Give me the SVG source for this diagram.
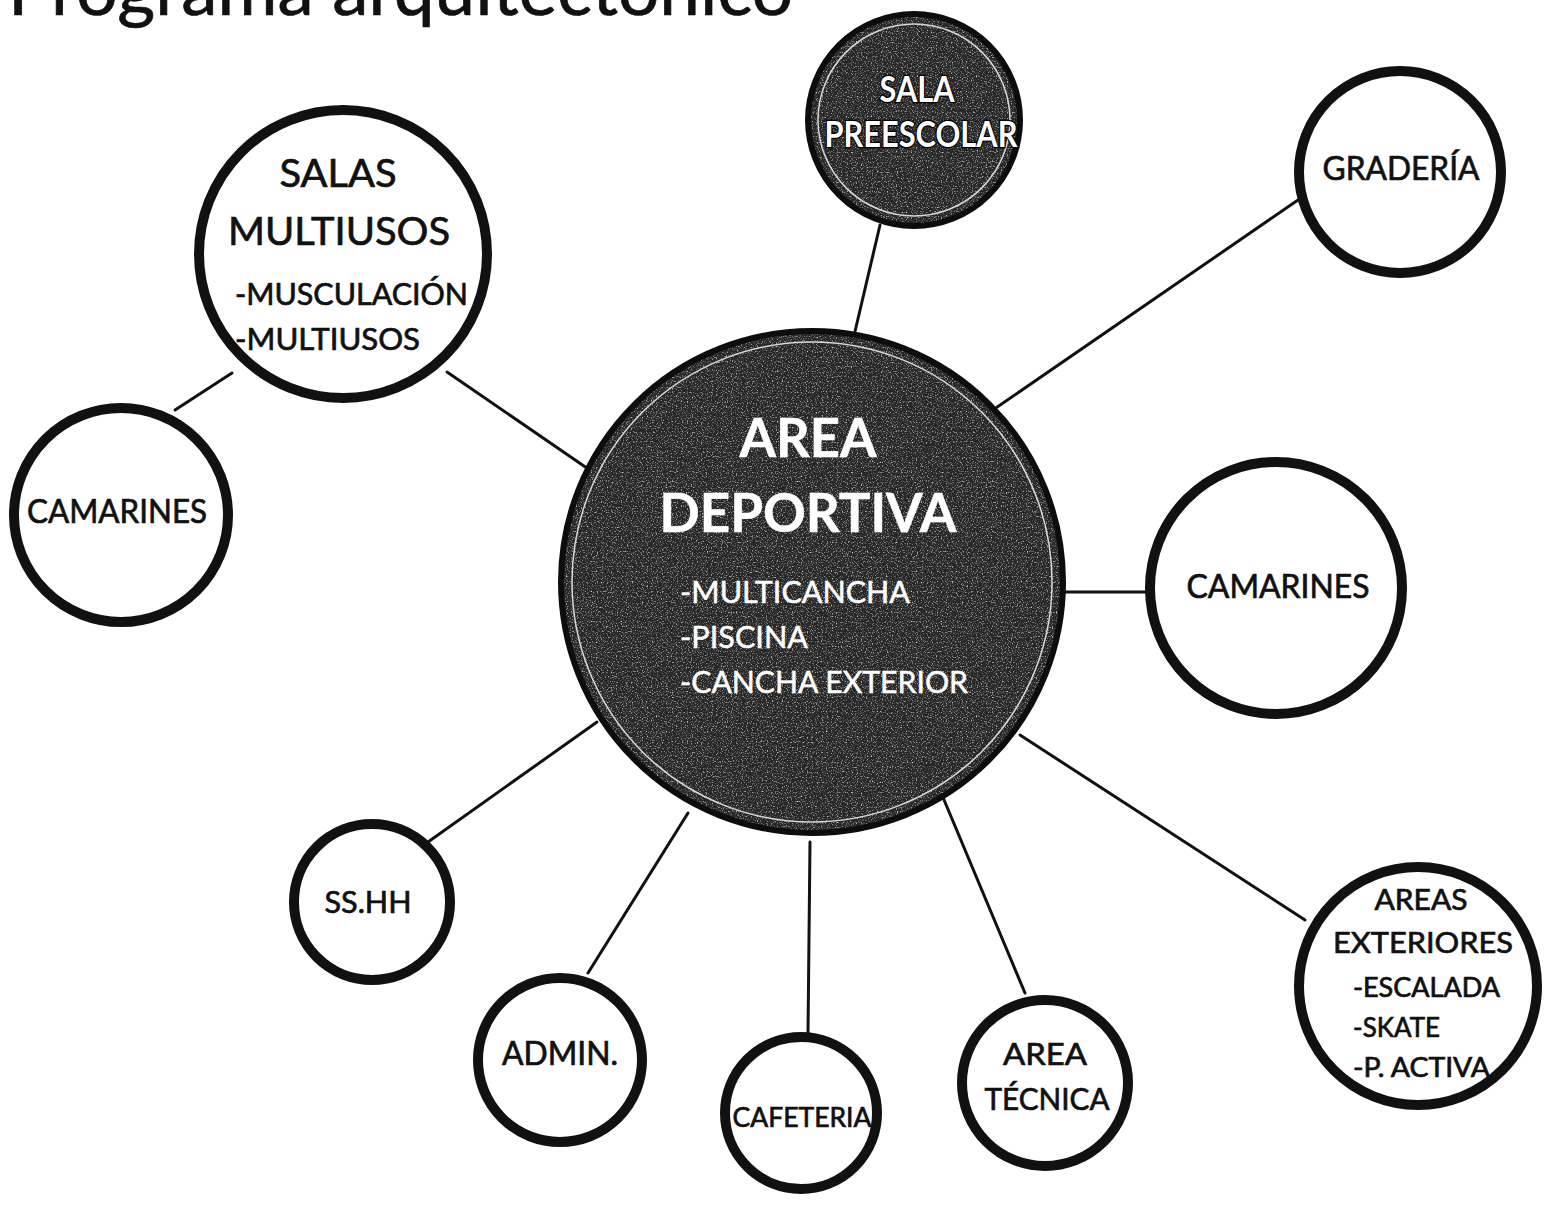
<svg xmlns="http://www.w3.org/2000/svg" width="1544" height="1210" viewBox="0 0 1544 1210">
<defs>
  <filter id="grain" x="0" y="0" width="100%" height="100%">
    <feTurbulence type="fractalNoise" baseFrequency="0.8" numOctaves="1" seed="7" result="n"/>
    <feColorMatrix in="n" type="matrix" values="0 0 0 0 0.8  0 0 0 0 0.8  0 0 0 0 0.8  3 0 0 0 -1.55" result="s"/>
    <feComposite in="s" in2="SourceGraphic" operator="in"/>
  </filter>
</defs>
<style>
  text { font-family: Lato, "Open Sans", "Liberation Sans", sans-serif; fill: #111; stroke: #111; stroke-width: 0.7; }
  .ring { fill: #ffffff; stroke: #111; stroke-width: 10; }
  .dark { fill: #262626; stroke: #0d0d0d; stroke-width: 6; }
  .grain { fill: #262626; filter: url(#grain); }
  .inner { fill: none; stroke: #d8d8d8; stroke-width: 1.5; }
  .conn line { stroke: #111; stroke-width: 3; stroke-linecap: round; }
  .c { text-anchor: middle; }
  .wt { fill: #ffffff; stroke: #ffffff; stroke-width: 0.5; }
  .ot { fill: #ffffff; stroke: #000; stroke-width: 2.5; paint-order: stroke; }
</style>
<rect x="0" y="0" width="1544" height="1210" fill="#ffffff"/>
<text x="8" y="15" font-size="72" textLength="785" lengthAdjust="spacingAndGlyphs">Programa arquitectónico</text>

<g id="connectors" class="conn">
  <line x1="447" y1="372" x2="597" y2="475"/>
  <line x1="232" y1="373" x2="175" y2="410"/>
  <line x1="880" y1="225" x2="853" y2="340"/>
  <line x1="1298" y1="200" x2="990" y2="412"/>
  <line x1="1062" y1="592" x2="1146" y2="592"/>
  <line x1="1020" y1="735" x2="1305" y2="920"/>
  <line x1="597" y1="722" x2="428" y2="842"/>
  <line x1="688" y1="813" x2="588" y2="973"/>
  <line x1="810" y1="842" x2="808" y2="1033"/>
  <line x1="942" y1="795" x2="1025" y2="993"/>
</g>

<g id="area-deportiva">
  <circle class="dark" cx="812" cy="582" r="251"/>
  <circle class="grain" cx="812" cy="582" r="248"/>
  <circle class="inner" cx="812" cy="582" r="240"/>
  <text class="c wt" x="808" y="457" font-size="54" font-weight="bold" textLength="137" lengthAdjust="spacingAndGlyphs">AREA</text>
  <text class="c wt" x="808" y="532" font-size="54" font-weight="bold" textLength="297" lengthAdjust="spacingAndGlyphs">DEPORTIVA</text>
  <text class="wt" x="680" y="603" font-size="31" textLength="230" lengthAdjust="spacingAndGlyphs">-MULTICANCHA</text>
  <text class="wt" x="680" y="648" font-size="31" textLength="128" lengthAdjust="spacingAndGlyphs">-PISCINA</text>
  <text class="wt" x="680" y="693" font-size="31" textLength="288" lengthAdjust="spacingAndGlyphs">-CANCHA EXTERIOR</text>
</g>

<g id="sala-preescolar">
  <circle class="dark" cx="914" cy="120" r="106"/>
  <circle class="grain" cx="914" cy="120" r="103"/>
  <circle class="inner" cx="914" cy="120" r="96"/>
  <text class="c ot" x="917" y="102" font-size="36" font-weight="bold" textLength="75" lengthAdjust="spacingAndGlyphs">SALA</text>
  <text class="c ot" x="921" y="147" font-size="36" font-weight="bold" textLength="193" lengthAdjust="spacingAndGlyphs">PREESCOLAR</text>
</g>

<g id="graderia">
  <circle class="ring" cx="1400" cy="172" r="101"/>
  <text class="c" x="1401" y="180" font-size="32" textLength="157" lengthAdjust="spacingAndGlyphs">GRADERÍA</text>
</g>

<g id="salas-multiusos">
  <circle class="ring" cx="343" cy="254" r="144"/>
  <text class="c" x="338" y="187" font-size="38" textLength="117" lengthAdjust="spacingAndGlyphs">SALAS</text>
  <text class="c" x="339" y="245" font-size="38" textLength="222" lengthAdjust="spacingAndGlyphs">MULTIUSOS</text>
  <text x="235" y="305" font-size="30" textLength="233" lengthAdjust="spacingAndGlyphs">-MUSCULACIÓN</text>
  <text x="235" y="350" font-size="30" textLength="185" lengthAdjust="spacingAndGlyphs">-MULTIUSOS</text>
</g>

<g id="camarines-izq">
  <circle class="ring" cx="121" cy="515" r="107"/>
  <text class="c" x="117" y="523" font-size="32" textLength="180" lengthAdjust="spacingAndGlyphs">CAMARINES</text>
</g>

<g id="camarines-der">
  <circle class="ring" cx="1276" cy="588" r="126"/>
  <text class="c" x="1278" y="598" font-size="32" textLength="183" lengthAdjust="spacingAndGlyphs">CAMARINES</text>
</g>

<g id="sshh">
  <circle class="ring" cx="372" cy="902" r="78"/>
  <text class="c" x="368" y="913" font-size="30" textLength="87" lengthAdjust="spacingAndGlyphs">SS.HH</text>
</g>

<g id="admin">
  <circle class="ring" cx="560" cy="1060" r="82"/>
  <text class="c" x="560" y="1065" font-size="32" textLength="116" lengthAdjust="spacingAndGlyphs">ADMIN.</text>
</g>

<g id="cafeteria">
  <circle class="ring" cx="801" cy="1113" r="76" stroke-width="8"/>
  <text class="c" x="802" y="1127" font-size="27" textLength="139" lengthAdjust="spacingAndGlyphs">CAFETERIA</text>
</g>

<g id="area-tecnica">
  <circle class="ring" cx="1045" cy="1083" r="83" stroke-width="8"/>
  <text class="c" x="1045" y="1065" font-size="31" textLength="84" lengthAdjust="spacingAndGlyphs">AREA</text>
  <text class="c" x="1047" y="1110" font-size="31" textLength="125" lengthAdjust="spacingAndGlyphs">TÉCNICA</text>
</g>

<g id="areas-exteriores">
  <circle class="ring" cx="1418" cy="986" r="119"/>
  <text class="c" x="1421" y="910" font-size="29" textLength="93" lengthAdjust="spacingAndGlyphs">AREAS</text>
  <text class="c" x="1423" y="953" font-size="29" textLength="180" lengthAdjust="spacingAndGlyphs">EXTERIORES</text>
  <text x="1353" y="997" font-size="26" textLength="147" lengthAdjust="spacingAndGlyphs">-ESCALADA</text>
  <text x="1353" y="1037" font-size="26" textLength="87" lengthAdjust="spacingAndGlyphs">-SKATE</text>
  <text x="1353" y="1077" font-size="26" textLength="137" lengthAdjust="spacingAndGlyphs">-P. ACTIVA</text>
</g>
</svg>
